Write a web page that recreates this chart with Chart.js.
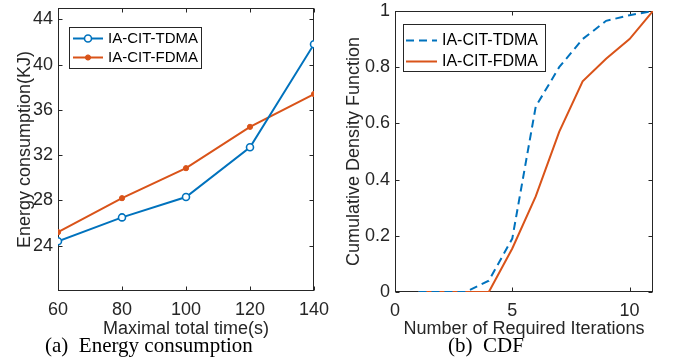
<!DOCTYPE html>
<html>
<head>
<meta charset="utf-8">
<script src="https://cdn.jsdelivr.net/npm/chart.js@4.4.1/dist/chart.umd.min.js"></script>
<style>
  body { margin: 0; background: #fff; }
  #wrap { position: relative; width: 674px; height: 358px; overflow: hidden; }
  canvas { position: absolute; top: 0; }
  .caption {
    position: absolute;
    font-family: "Liberation Serif", serif;
    font-size: 21px;
    line-height: 1;
    color: #000;
    white-space: pre;
  }
</style>
</head>
<body>
<div id="wrap">
  <canvas id="energy-chart" width="337" height="358" style="left:0"></canvas>
  <canvas id="cdf-chart" width="337" height="358" style="left:337px"></canvas>
  <div class="caption" style="left:45px; top:335px">(a)  Energy consumption</div>
  <div class="caption" style="left:448px; top:335px">(b)  CDF</div>
</div>
<script>
// (a) energy vs maximal total time
const maxTime = [60, 80, 100, 120, 140];
const energyTdma = [24.4, 26.5, 28.3, 32.7, 41.8];
const energyFdma = [25.2, 28.2, 30.85, 34.5, 37.4];
const energyXTicks = [60, 80, 100, 120, 140];
const energyYTicks = [24, 28, 32, 36, 40, 44];

// (b) CDF of required iterations
const iterations = [1, 2, 3, 4, 5, 6, 7, 8, 9, 10, 11];
const cdfTdma = [0, 0, 0, 0.04, 0.19, 0.66, 0.8, 0.9, 0.965, 0.985, 1];
const cdfFdma = [0, 0, 0, 0, 0.155, 0.34, 0.57, 0.75, 0.83, 0.9, 1];
const cdfXTicks = [0, 5, 10];
const cdfYTicks = [0, 0.2, 0.4, 0.6, 0.8, 1];

const BLUE = "#0072BD";
const ORANGE = "#D95319";
const AXIS = "#262626";
const FONT = "'Liberation Sans', Arial, sans-serif";

function toPoints(xs, ys) {
  return xs.map((x, i) => ({ x, y: ys[i] }));
}

// matlab style box with inward ticks on all four sides
const matlabFrame = {
  id: "matlabFrame",
  beforeDatasetsDraw(chart) {
    const { ctx, chartArea: a, scales } = chart;
    const len = 4;
    const L = Math.round(a.left) + 0.5;
    const R = Math.round(a.right) - 0.5;
    const T = Math.round(a.top) + 0.5;
    const B = Math.round(a.bottom) - 0.5;
    ctx.save();
    ctx.strokeStyle = AXIS;
    ctx.lineWidth = 1;
    ctx.strokeRect(L, T, R - L, B - T);
    ctx.beginPath();
    scales.x.ticks.forEach((t) => {
      const px = Math.round(scales.x.getPixelForValue(t.value)) + 0.5;
      ctx.moveTo(px, B); ctx.lineTo(px, B - len);
      ctx.moveTo(px, T); ctx.lineTo(px, T + len);
    });
    scales.y.ticks.forEach((t) => {
      const py = Math.round(scales.y.getPixelForValue(t.value)) + 0.5;
      ctx.moveTo(L, py); ctx.lineTo(L + len, py);
      ctx.moveTo(R, py); ctx.lineTo(R - len, py);
    });
    ctx.stroke();
    ctx.restore();
  },
};

// boxed legend inside the plot area
const boxLegend = {
  id: "boxLegend",
  afterDraw(chart, args, opts) {
    const { ctx } = chart;
    ctx.save();
    ctx.fillStyle = "#fff";
    ctx.fillRect(opts.x, opts.y, opts.w, opts.h);
    ctx.strokeStyle = AXIS;
    ctx.lineWidth = 1;
    ctx.strokeRect(opts.x + 0.5, opts.y + 0.5, opts.w, opts.h);
    chart.data.datasets.forEach((ds, i) => {
      const ry = opts.rows[i];
      ctx.strokeStyle = ds.borderColor;
      ctx.lineWidth = ds.borderWidth;
      ctx.setLineDash(ds.borderDash || []);
      ctx.beginPath();
      ctx.moveTo(opts.lineStart, ry);
      ctx.lineTo(opts.lineEnd, ry);
      ctx.stroke();
      ctx.setLineDash([]);
      if (ds.pointRadius > 0) {
        ctx.beginPath();
        ctx.arc((opts.lineStart + opts.lineEnd) / 2, ry, ds.pointRadius, 0, Math.PI * 2);
        ctx.fillStyle = ds.pointBackgroundColor;
        ctx.fill();
        ctx.lineWidth = ds.pointBorderWidth;
        ctx.strokeStyle = ds.borderColor;
        ctx.stroke();
      }
      ctx.fillStyle = "#000";
      ctx.font = `${opts.fontSize}px ${FONT}`;
      ctx.textBaseline = "middle";
      ctx.fillText(ds.label, opts.textX, ry);
    });
    ctx.restore();
  },
};

function makeAxis(cfg) {
  return {
    type: "linear",
    min: cfg.min,
    max: cfg.max,
    grid: { display: false, drawTicks: false },
    border: { display: false },
    afterBuildTicks: (scale) => {
      scale.ticks = cfg.ticks.map((v) => ({ value: v }));
    },
    afterFit: (scale) => {
      if (cfg.horizontal) {
        scale.height = cfg.size;
        scale.paddingLeft = 0;
        scale.paddingRight = 0;
      } else {
        scale.width = cfg.size;
        scale.paddingTop = 0;
        scale.paddingBottom = 0;
      }
    },
    ticks: {
      color: AXIS,
      padding: cfg.tickPad,
      maxRotation: 0,
      autoSkip: false,
      font: { family: FONT, size: 18 },
      callback: (v) => String(v),
    },
    title: {
      display: true,
      text: cfg.title,
      color: AXIS,
      padding: cfg.titlePad,
      font: { family: FONT, size: 18 },
    },
  };
}

function baseOptions(padding, xAxis, yAxis, legend) {
  return {
    responsive: false,
    animation: false,
    devicePixelRatio: 1,
    layout: { padding },
    plugins: {
      legend: { display: false },
      tooltip: { enabled: false },
      boxLegend: legend,
    },
    scales: { x: xAxis, y: yAxis },
  };
}

new Chart(document.getElementById("energy-chart"), {
  type: "line",
  data: {
    datasets: [
      {
        label: "IA-CIT-TDMA",
        data: toPoints(maxTime, energyTdma),
        borderColor: BLUE,
        borderWidth: 2,
        pointRadius: 3.5,
        pointBorderWidth: 1.6,
        pointBackgroundColor: "#fff",
        pointBorderColor: BLUE,
        tension: 0,
      },
      {
        label: "IA-CIT-FDMA",
        data: toPoints(maxTime, energyFdma),
        borderColor: ORANGE,
        borderWidth: 2,
        pointRadius: 2.6,
        pointBorderWidth: 1,
        pointBackgroundColor: ORANGE,
        pointBorderColor: ORANGE,
        tension: 0,
      },
    ],
  },
  options: baseOptions(
    { left: 0, right: 23, top: 8, bottom: 0 },
    makeAxis({ min: 60, max: 140, ticks: energyXTicks, horizontal: true, size: 67, tickPad: 8,
      title: "Maximal total time(s)", titlePad: { top: 0, bottom: 18 } }),
    makeAxis({ min: 20, max: 45, ticks: energyYTicks, horizontal: false, size: 58, tickPad: 5,
      title: "Energy consumption(KJ)", titlePad: { top: 14, bottom: 0 } }),
    { x: 69, y: 27, w: 132, h: 41, rows: [38.5, 57.5], lineStart: 73, lineEnd: 103, textX: 108, fontSize: 15 }
  ),
  plugins: [matlabFrame, boxLegend],
});

new Chart(document.getElementById("cdf-chart"), {
  type: "line",
  data: {
    datasets: [
      {
        label: "IA-CIT-TDMA",
        data: toPoints(iterations, cdfTdma),
        borderColor: BLUE,
        borderWidth: 2,
        borderDash: [8, 5],
        pointRadius: 0,
        tension: 0,
      },
      {
        label: "IA-CIT-FDMA",
        data: toPoints(iterations, cdfFdma),
        borderColor: ORANGE,
        borderWidth: 2,
        pointRadius: 0,
        tension: 0,
      },
    ],
  },
  options: baseOptions(
    { left: 0, right: 21, top: 11, bottom: 0 },
    makeAxis({ min: 0, max: 11, ticks: cdfXTicks, horizontal: true, size: 66, tickPad: 8,
      title: "Number of Required Iterations", titlePad: { top: 0, bottom: 18 } }),
    makeAxis({ min: 0, max: 1, ticks: cdfYTicks, horizontal: false, size: 58, tickPad: 5,
      title: "Cumulative Density Function", titlePad: { top: 6, bottom: 0 } }),
    { x: 66, y: 24, w: 142, h: 47, rows: [40.5, 61.5], lineStart: 69, lineEnd: 100, textX: 105, fontSize: 16 }
  ),
  plugins: [matlabFrame, boxLegend],
});
</script>
</body>
</html>
